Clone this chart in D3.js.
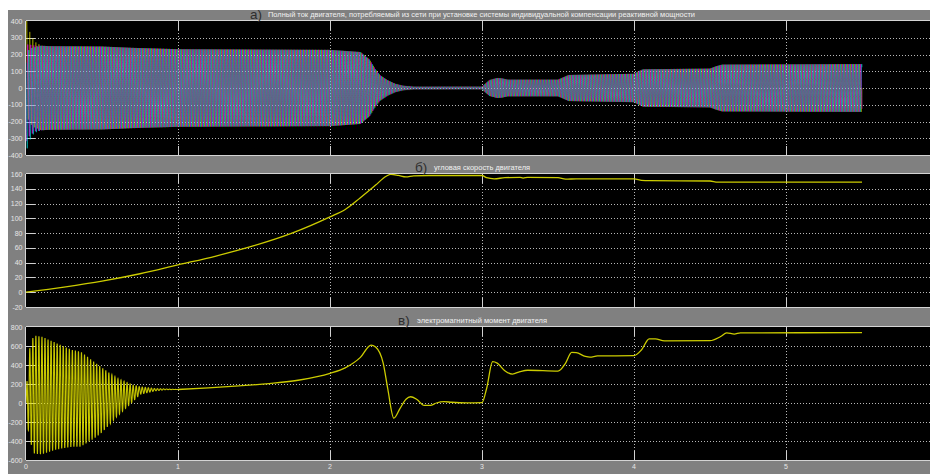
<!DOCTYPE html>
<html>
<head>
<meta charset="utf-8">
<script src="https://cdn.jsdelivr.net/npm/d3@7"></script>
<style>
  html, body { margin: 0; padding: 0; background: #ffffff; }
  svg { display: block; }
</style>
</head>
<body>
<svg id="chart" width="930" height="474"></svg>
<script>
// ---- axis ticks ----
const timeTicks = [0, 1, 2, 3, 4, 5];
const currentTicks = [-400, -300, -200, -100, 0, 100, 200, 300, 400];
const speedTicks = [-20, 0, 20, 40, 60, 80, 100, 120, 140, 160];
const torqueTicks = [-600, -400, -200, 0, 200, 400, 600, 800];

// ---- panel titles ----
const titleLetters = ["а)", "б)", "в)"];
const titleTexts = [
  "Полный ток двигателя, потребляемый из сети при установке системы индивидуальной компенсации реактивной мощности",
  "угловая скорость двигателя",
  "электромагнитный момент двигателя"
];

// ---- a) phase current: amplitude envelope, A ----
const supplyHz = 50;
const currentEnvT = [0, 0.02, 0.06, 0.15, 0.5, 0.7, 1.0, 2.0, 2.2, 2.26, 2.3, 2.33, 2.38, 2.43, 2.48, 2.55, 3.0, 3.02, 3.05, 3.1, 3.13, 3.17, 3.5, 3.53, 3.57, 4.0, 4.03, 4.06, 4.5, 4.54, 4.58, 5.5];
const currentEnvA = [290, 275, 255, 250, 248, 240, 232, 228, 215, 170, 110, 76, 46, 25, 14, 8, 8, 25, 48, 60, 58, 50, 50, 62, 78, 85, 100, 112, 116, 130, 140, 143];
// switching-on offsets of phases A, B, C
const currentDcT = [0, 0.02, 0.05, 0.1];
const currentDcA = [150, 70, 25, 0];
const currentDcB = [-30, -15, -5, 0];
const currentDcC = [-100, -45, -15, 0];
// phase colours, drawn in this order (A, B, C)
const phaseColors = ["#ffff00", "#ff00ff", "#00ffff"];
const phaseWidths = [0.5, 0.7, 0.65];
const phaseOpacity = [0.8, 0.8, 0.7];

// ---- б) angular speed, rad/s ----
const speedT = [0, 0.25, 0.5, 0.75, 1.0, 1.25, 1.5, 1.75, 2.0, 2.1, 2.2, 2.3, 2.37, 2.4, 2.45, 2.5, 2.55, 2.65, 3.0, 3.03, 3.08, 3.15, 3.25, 3.27, 3.3, 3.5, 3.55, 3.62, 4.0, 4.05, 4.1, 4.5, 4.55, 5.5];
const speedV = [0, 7, 15, 25, 37, 49, 63, 80, 102, 112, 128, 145, 157, 159.5, 158, 156, 157.5, 158, 158, 155, 153.5, 155, 155.5, 154.5, 155.5, 155, 153, 153.5, 153.5, 151.5, 151, 150.5, 149, 149];

// ---- в) electromagnetic torque, N·m ----
// starting oscillation: mean level and amplitude
const torqueOscT = [0, 0.01, 0.02, 0.05, 0.1, 0.2, 0.3, 0.36, 0.45, 0.5, 0.6, 0.7, 0.75, 0.85, 0.92, 1.0];
const torqueOscMean = [0, 80, 100, 90, 80, 70, 50, 40, 30, 30, 60, 100, 131, 140, 144, 142];
const torqueOscAmp = [0, 300, 450, 620, 620, 560, 510, 500, 400, 340, 200, 90, 40, 12, 4, 0];
// after the start
const torqueT = [1.0, 1.2, 1.4, 1.6, 1.8, 2.0, 2.1, 2.2, 2.27, 2.3, 2.35, 2.38, 2.42, 2.46, 2.5, 2.53, 2.57, 2.62, 2.66, 2.7, 2.75, 2.8, 2.9, 3.0, 3.03, 3.07, 3.1, 3.15, 3.2, 3.25, 3.3, 3.5, 3.55, 3.59, 3.62, 3.68, 3.71, 3.76, 4.0, 4.05, 4.1, 4.14, 4.2, 4.5, 4.57, 4.61, 4.66, 4.7, 5.5];
const torqueV = [142, 160, 180, 205, 242, 312, 370, 480, 610, 590, 420, 150, -160, -60, 40, 66, 40, -25, -25, 0, 14, 8, 2, 5, 150, 435, 420, 340, 305, 330, 345, 335, 420, 533, 530, 490, 482, 495, 498, 560, 675, 675, 655, 656, 700, 738, 726, 738, 740];

// ---- layout ----
const svg = d3.select("#chart");
const W = 930, H = 474;
const plotLeft = 26, plotRight = 930;
const panelBox = [
  { top: 21, bottom: 155 },
  { top: 174, bottom: 307 },
  { top: 327, bottom: 460 }
];
const fontFamily = "'Liberation Sans', Arial, sans-serif";

svg.append("rect").attr("x", 8).attr("y", 10).attr("width", W - 8).attr("height", H - 10).attr("fill", "#808080");

const x = d3.scaleLinear().domain([0, 1]).range([plotLeft, plotLeft + 152]);

function drawPanel(i, ticks, yDomain) {
  const box = panelBox[i];
  const y = d3.scaleLinear().domain(yDomain).range([box.bottom, box.top]);
  const g = svg.append("g");
  g.append("rect").attr("x", plotLeft).attr("y", box.top)
    .attr("width", plotRight - plotLeft).attr("height", box.bottom - box.top).attr("fill", "#000");

  const clipId = "clip" + i;
  svg.append("clipPath").attr("id", clipId).append("rect")
    .attr("x", plotLeft).attr("y", box.top).attr("width", plotRight - plotLeft).attr("height", box.bottom - box.top);

  // dotted grid
  const grid = g.append("g").attr("stroke", "#b8b8b8").attr("stroke-width", 1).attr("stroke-dasharray", "1,2");
  ticks.filter(v => v > yDomain[0] && v < yDomain[1]).forEach(v => {
    grid.append("line").attr("x1", plotLeft + 9).attr("x2", plotRight)
      .attr("y1", Math.round(y(v)) + 0.5).attr("y2", Math.round(y(v)) + 0.5);
  });
  timeTicks.filter(t => t > 0).forEach(t => {
    grid.append("line").attr("x1", Math.round(x(t)) + 0.5).attr("x2", Math.round(x(t)) + 0.5)
      .attr("y1", box.top + 9).attr("y2", box.bottom - 9);
  });

  // solid tick marks
  const tk = g.append("g").attr("stroke", "#d0d0d0").attr("stroke-width", 1);
  ticks.filter(v => v > yDomain[0] && v < yDomain[1]).forEach(v => {
    tk.append("line").attr("x1", plotLeft).attr("x2", plotLeft + 9)
      .attr("y1", Math.round(y(v)) + 0.5).attr("y2", Math.round(y(v)) + 0.5);
  });
  timeTicks.filter(t => t > 0).forEach(t => {
    const xx = Math.round(x(t)) + 0.5;
    tk.append("line").attr("x1", xx).attr("x2", xx).attr("y1", box.top).attr("y2", box.top + 9);
    tk.append("line").attr("x1", xx).attr("x2", xx).attr("y1", box.bottom - 9).attr("y2", box.bottom);
  });

  // y tick labels
  const lab = g.append("g").attr("fill", "#e6e6e6").attr("font-family", fontFamily)
    .attr("font-size", 7).attr("text-anchor", "end");
  ticks.forEach(v => {
    lab.append("text").attr("x", 22.5).attr("y", y(v) + 2.5).text(v);
  });

  const data = svg.append("g").attr("clip-path", `url(#${clipId})`);
  return { y, g, data, box };
}

function drawFrame(p) {
  const f = svg.append("g").attr("stroke", "#d4d4d4").attr("stroke-width", 1).attr("fill", "none");
  f.append("line").attr("x1", plotLeft).attr("x2", plotRight).attr("y1", p.box.top - 0.5).attr("y2", p.box.top - 0.5);
  f.append("line").attr("x1", plotLeft).attr("x2", plotRight).attr("y1", p.box.bottom + 0.5).attr("y2", p.box.bottom + 0.5);
  f.append("line").attr("x1", plotLeft - 0.5).attr("x2", plotLeft - 0.5).attr("y1", p.box.top).attr("y2", p.box.bottom);
}

// ---- a) current panel ----
const p1 = drawPanel(0, currentTicks, [-400, 400]);
const envA = d3.scaleLinear().domain(currentEnvT).range(currentEnvA).clamp(true);
const dcScales = [currentDcA, currentDcB, currentDcC].map(arr => d3.scaleLinear().domain(currentDcT).range(arr).clamp(true));
const tEnd = currentEnvT[currentEnvT.length - 1];
const dt = 0.0005;
const tSamples = d3.range(0, tEnd + dt / 2, dt);
const line1 = d3.line().x(d => x(d[0])).y(d => p1.y(d[1]));
phaseColors.forEach((c, k) => {
  const pts = tSamples.map(t => [t, envA(t) * Math.sin(2 * Math.PI * supplyHz * t - k * 2 * Math.PI / 3) + dcScales[k](t)]);
  p1.data.append("path").attr("d", line1(pts)).attr("fill", "none")
    .attr("stroke", c).attr("stroke-width", phaseWidths[k]).attr("stroke-opacity", phaseOpacity[k]);
});
drawFrame(p1);

// ---- б) speed panel ----
const p2 = drawPanel(1, speedTicks, [-20, 160]);
const line2 = d3.line().x((d, i) => x(speedT[i])).y(d => p2.y(d)).curve(d3.curveMonotoneX);
p2.data.append("path").attr("d", line2(speedV)).attr("fill", "none")
  .attr("stroke", "#cccc00").attr("stroke-width", 1.3);
drawFrame(p2);

// ---- в) torque panel ----
const p3 = drawPanel(2, torqueTicks, [-600, 800]);
const oscMean = d3.scaleLinear().domain(torqueOscT).range(torqueOscMean).clamp(true);
const oscAmp = d3.scaleLinear().domain(torqueOscT).range(torqueOscAmp).clamp(true);
const oscEnd = torqueOscT[torqueOscT.length - 1];
const oscPts = d3.range(0, oscEnd + dt / 2, dt).map(t => [t, oscMean(t) + oscAmp(t) * Math.sin(2 * Math.PI * supplyHz * t)]);
const line3 = d3.line().x(d => x(d[0])).y(d => p3.y(d[1]));
p3.data.append("path").attr("d", line3(oscPts)).attr("fill", "none")
  .attr("stroke", "#e8e800").attr("stroke-width", 1.1).attr("stroke-opacity", 0.85);
const line3b = d3.line().x((d, i) => x(torqueT[i])).y(d => p3.y(d)).curve(d3.curveMonotoneX);
p3.data.append("path").attr("d", line3b(torqueV)).attr("fill", "none")
  .attr("stroke", "#cccc00").attr("stroke-width", 1.3);
drawFrame(p3);

// x tick labels
const xl = svg.append("g").attr("fill", "#e6e6e6").attr("font-family", fontFamily)
  .attr("font-size", 7).attr("text-anchor", "middle");
timeTicks.forEach(t => xl.append("text").attr("x", x(t)).attr("y", 469).text(t));

// ---- titles ----
const titleLayout = [
  { lx: 250, ly: 18.5, tx: 268, ty: 17.2, tw: 427 },
  { lx: 415, ly: 171.5, tx: 434, ty: 170, tw: 96 },
  { lx: 398, ly: 324.5, tx: 417, ty: 323, tw: 130 }
];
titleLayout.forEach((L, i) => {
  svg.append("text").attr("x", L.lx).attr("y", L.ly).attr("font-family", fontFamily)
    .attr("font-size", 13.5).attr("fill", "#2e2e2e").text(titleLetters[i]);
  svg.append("text").attr("x", L.tx).attr("y", L.ty).attr("font-family", fontFamily)
    .attr("font-size", 7.2).attr("fill", "#f0f0f0")
    .attr("textLength", L.tw).attr("lengthAdjust", "spacingAndGlyphs").text(titleTexts[i]);
});
</script>
</body>
</html>
